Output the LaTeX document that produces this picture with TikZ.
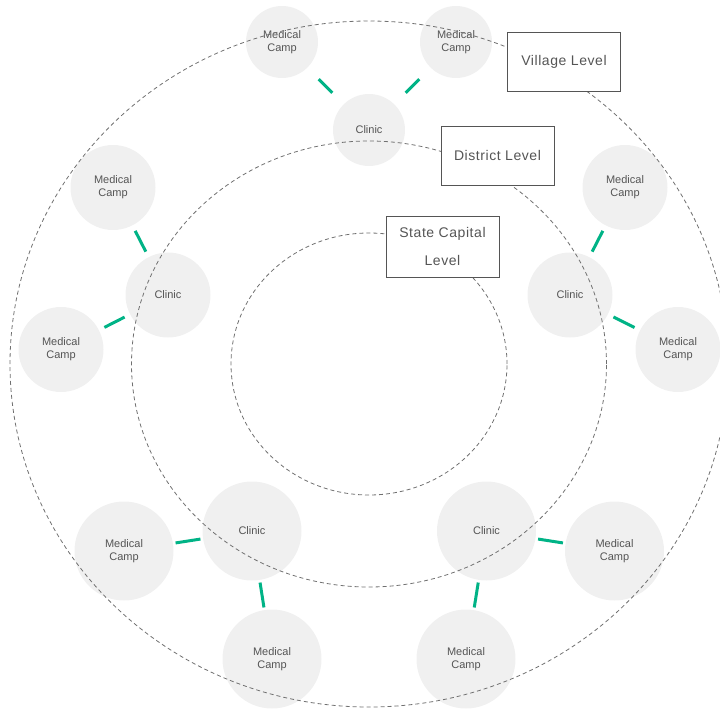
\documentclass[tikz,border=0pt]{standalone}
\usepackage{fontspec}
\setmainfont{Liberation Sans}
\newfontfamily\levelfont[LetterSpace=4]{Liberation Sans}
\definecolor{ringgray}{HTML}{707070}
\definecolor{bubble}{HTML}{F0F0F0}
\definecolor{inktext}{HTML}{555555}
\definecolor{linkgreen}{HTML}{00B386}
\definecolor{boxline}{HTML}{555555}
\begin{document}
\begin{tikzpicture}[x=1pt,y=-1pt,
  ring/.style={draw=ringgray, line width=0.8pt, dash pattern=on 4pt off 3pt},
  site/.style={circle, fill=bubble, draw=none, inner sep=0pt, align=center,
    text=inktext, font=\fontsize{11}{13}\selectfont},
  smallsite/.style={site, minimum size=72pt},
  midsite/.style={site, minimum size=85pt},
  bigsite/.style={site, minimum size=99pt},
  wire/.style={draw=linkgreen, line width=3pt, shorten >=#1, shorten <=#1},
  levelbox/.style={draw=boxline, fill=white, line width=0.9pt, minimum width=113pt,
    minimum height=59pt, inner sep=0pt, align=center, text=inktext,
    font=\levelfont\fontsize{14}{28}\selectfont}]
\useasboundingbox (0,0) rectangle (720,711);

% facilities
\node[smallsite] (campTL) at (282,42) {Medical\\Camp};
\node[smallsite] (campTR) at (456,42) {Medical\\Camp};
\node[smallsite] (clinicT) at (369,130) {Clinic};

\node[midsite] (campLU) at (113,187.5) {Medical\\Camp};
\node[midsite] (clinicL) at (168,295) {Clinic};
\node[midsite] (campLL) at (61,349.5) {Medical\\Camp};

\node[midsite] (campRU) at (625,187.5) {Medical\\Camp};
\node[midsite] (clinicR) at (570,295) {Clinic};
\node[midsite] (campRL) at (678,349.5) {Medical\\Camp};

\node[bigsite] (clinicBL) at (252,531) {Clinic};
\node[bigsite] (campBLa) at (124,551) {Medical\\Camp};
\node[bigsite] (campBLb) at (272,659) {Medical\\Camp};

\node[bigsite] (clinicBR) at (486.5,531) {Clinic};
\node[bigsite] (campBRa) at (614.5,551) {Medical\\Camp};
\node[bigsite] (campBRb) at (466,659) {Medical\\Camp};

% administrative rings
\coordinate (hub) at (369,364);
\draw[ring] (hub) ellipse [x radius=138pt, y radius=131pt];
\draw[ring] (hub) ellipse [x radius=237.5pt, y radius=223pt];
\draw[ring] (hub) ellipse [x radius=359pt, y radius=343pt];

% links between clinics and camps
\draw[wire=16pt] (clinicT) -- (campTL);
\draw[wire=16pt] (clinicT) -- (campTR);
\draw[wire=6pt] (clinicL) -- (campLU);
\draw[wire=6pt] (clinicL) -- (campLL);
\draw[wire=6pt] (clinicR) -- (campRU);
\draw[wire=6pt] (clinicR) -- (campRL);
\draw[wire=2.5pt] (clinicBL) -- (campBLa);
\draw[wire=2.5pt] (clinicBL) -- (campBLb);
\draw[wire=2.5pt] (clinicBR) -- (campBRa);
\draw[wire=2.5pt] (clinicBR) -- (campBRb);

% level labels
\node[levelbox] (village) at (564,61.5) {Village Level};
\node[levelbox] (district) at (497.5,155.5) {District Level};
\node[levelbox, minimum height=61pt] (state) at (442.5,246.5) {State Capital\\Level};
\end{tikzpicture}
\end{document}
